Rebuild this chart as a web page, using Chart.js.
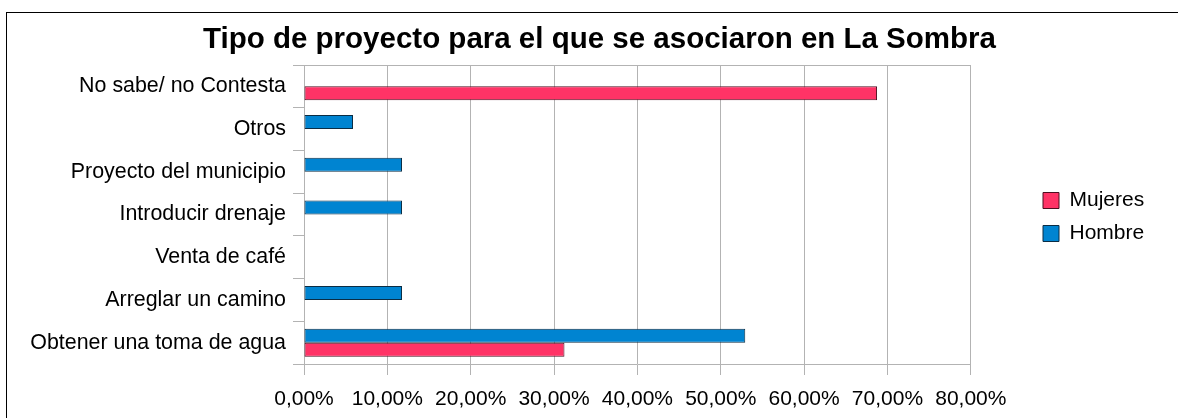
<!DOCTYPE html>
<html lang="es">
<head>
<meta charset="utf-8">
<title>Tipo de proyecto para el que se asociaron en La Sombra</title>
<script src="https://cdn.jsdelivr.net/npm/chart.js@4.4.1/dist/chart.umd.min.js"></script>
<style>
  html, body { margin: 0; padding: 0; background: #ffffff; }
  #wrap { width: 1178px; height: 418px; }
</style>
</head>
<body>
<div id="wrap"><canvas id="chart" width="1178" height="418"></canvas></div>
<script>
// Categories, top to bottom
const categories = [
  'No sabe/ no Contesta',
  'Otros',
  'Proyecto del municipio',
  'Introducir drenaje',
  'Venta de café',
  'Arreglar un camino',
  'Obtener una toma de agua'
];

// Share of respondents per project type (percent)
const hombre  = [0, 5.88, 11.76, 11.76, 0, 11.76, 52.94];
const mujeres = [68.75, 0, 0, 0, 0, 0, 31.25];

const seriesNames = ['Hombre', 'Mujeres'];
const xTicks = [0, 10, 20, 30, 40, 50, 60, 70, 80];

const titleText = 'Tipo de proyecto para el que se asociaron en La Sombra';

const FONT = "'Liberation Sans', Arial, sans-serif";
const GRID = '#b3b3b3';

// Outer frame around the whole chart
const framePlugin = {
  id: 'frame',
  beforeDraw(chart) {
    const ctx = chart.ctx;
    ctx.save();
    ctx.strokeStyle = '#000000';
    ctx.lineWidth = 1;
    ctx.strokeRect(6.5, 12.5, 1400, 600);
    ctx.restore();
  }
};

// Place title and legend once the layout is computed
const TITLE_CX = 599.5;
const LEGEND_X = 1043;
const LEGEND_DY = 8;
const placePlugin = {
  id: 'place',
  afterLayout(chart) {
    const t = chart.titleBlock;
    if (t) {
      const dx = TITLE_CX - (t.left + t.right) / 2;
      t.left += dx; t.right += dx;
    }
    const lg = chart.legend;
    if (lg) {
      const pad = lg.options.labels.padding;
      const dx = LEGEND_X - (lg.left + pad);
      lg.left += dx; lg.right += dx;
      lg.top += LEGEND_DY; lg.bottom += LEGEND_DY;
    }
  }
};

const fmt = v => v.toFixed(2).replace('.', ',') + '%';

new Chart(document.getElementById('chart'), {
  type: 'bar',
  data: {
    labels: categories,
    datasets: [
      {
        label: seriesNames[0],
        data: hombre,
        backgroundColor: '#0084d1',
        borderColor: '#0b2d44',
        borderWidth: 1,
        borderSkipped: false
      },
      {
        label: seriesNames[1],
        data: mujeres,
        backgroundColor: '#ff3366',
        borderColor: '#4d0f20',
        borderWidth: 1,
        borderSkipped: false
      }
    ]
  },
  options: {
    indexAxis: 'y',
    responsive: false,
    animation: false,
    devicePixelRatio: 1,
    categoryPercentage: 0.656,
    barPercentage: 1,
    layout: { padding: { left: 10, right: 84, top: 0, bottom: 0 } },
    scales: {
      x: {
        type: 'linear',
        min: xTicks[0],
        max: xTicks[xTicks.length - 1],
        afterBuildTicks(scale) { scale.ticks = xTicks.map(v => ({ value: v })); },
        afterFit(scale) { scale.height = 54; },
        grid: { color: GRID, tickColor: GRID, tickLength: 11, lineWidth: 1 },
        border: { color: GRID, width: 1 },
        ticks: {
          color: '#000000',
          padding: 12,
          maxRotation: 0,
          autoSkip: false,
          font: { family: FONT, size: 21 },
          callback: v => fmt(v)
        }
      },
      y: {
        afterFit(scale) { scale.width = 294; },
        grid: {
          offset: true,
          color: ctx => (ctx.index === 0 ? GRID : 'rgba(0,0,0,0)'),
          tickColor: GRID,
          tickLength: 11,
          lineWidth: 1
        },
        border: { color: GRID, width: 1 },
        ticks: {
          color: '#000000',
          padding: 7,
          autoSkip: false,
          font: { family: FONT, size: 21.4 }
        }
      }
    },
    plugins: {
      title: {
        display: true,
        text: titleText,
        color: '#000000',
        font: { family: FONT, size: 29.5, weight: 'bold' },
        padding: { top: 21.7, bottom: 7.9 }
      },
      legend: {
        position: 'right',
        reverse: true,
        labels: {
          color: '#000000',
          boxWidth: 16,
          boxHeight: 16,
          padding: 12,
          font: { family: FONT, size: 21 }
        }
      },
      tooltip: { enabled: false }
    }
  },
  plugins: [framePlugin, placePlugin]
});
</script>
</body>
</html>
